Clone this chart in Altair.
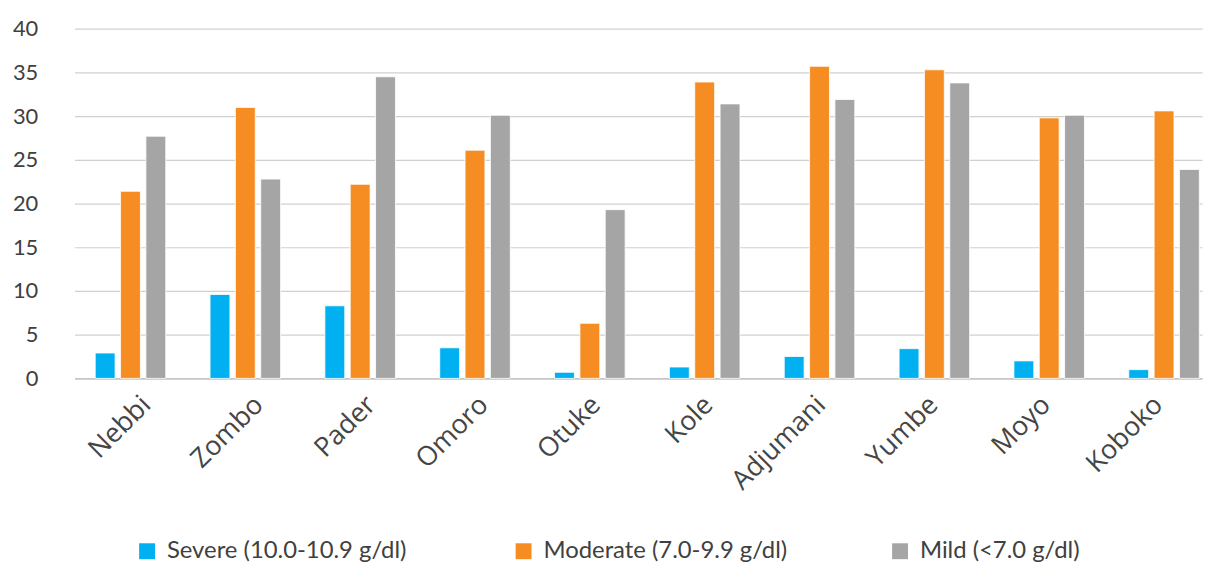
import json
import altair as alt
import pandas as pd

districts = ["Nebbi", "Zombo", "Pader", "Omoro", "Otuke", "Kole", "Adjumani", "Yumbe", "Moyo", "Koboko"]
severe = [2.9, 9.6, 8.3, 3.5, 0.7, 1.3, 2.5, 3.4, 2.0, 1.0]
moderate = [21.4, 31.0, 22.2, 26.1, 6.3, 33.9, 35.7, 35.3, 29.8, 30.6]
mild = [27.7, 22.8, 34.5, 30.1, 19.3, 31.4, 31.9, 33.8, 30.1, 23.9]
series = ["Severe (10.0-10.9 g/dl)", "Moderate (7.0-9.9 g/dl)", "Mild (<7.0 g/dl)"]
colors = ["#00B0F0", "#F58D22", "#A5A5A5"]
y_ticks = [0, 5, 10, 15, 20, 25, 30, 35, 40]

rows = []
for name, vals in zip(series, [severe, moderate, mild]):
    for d, v in zip(districts, vals):
        rows.append({"District": d, "Series": name, "Value": v})
df = pd.DataFrame(rows)

label_shift = alt.ExprRef(expr="7 - 2.4 * indexof(" + json.dumps(districts) + ", datum.value)")

chart = alt.Chart(df).mark_bar(stroke="white", strokeWidth=0.8).encode(
    x=alt.X(
        "District:N",
        sort=districts,
        scale=alt.Scale(paddingInner=0.338, paddingOuter=0.078, align=1),
        axis=alt.Axis(
            title=None, labelAngle=-45, labelAlign="right", labelBaseline="top",
            labelFontSize=27, labelFont="Open Sans", labelColor="#454545",
            ticks=False, domainColor="#bfbfbf", domainWidth=1.2,
            labelPadding=13, labelOffset=label_shift, grid=False,
        ),
    ),
    xOffset=alt.XOffset("Series:N", sort=series, scale=alt.Scale(paddingInner=0.216, paddingOuter=0.108)),
    y=alt.Y(
        "Value:Q",
        scale=alt.Scale(domain=[0, 40]),
        axis=alt.Axis(
            title=None, values=y_ticks, domain=False, ticks=False,
            labelFontSize=22, labelFont="Lato", labelColor="#404040", labelPadding=37,
            gridColor="#d0d0d0", gridWidth=1.2,
        ),
    ),
    color=alt.Color(
        "Series:N",
        sort=series,
        scale=alt.Scale(domain=series, range=colors),
        legend=alt.Legend(
            title=None, orient="none", legendX=61, legendY=514, direction="horizontal",
            columns=3, gridAlign="all", columnPadding=101, symbolType="square",
            symbolSize=256, symbolStrokeWidth=0, labelFontSize=24, labelFont="Lato",
            labelColor="#404040", labelOffset=8, padding=0, labelLimit=400,
        ),
    ),
).properties(
    width=1135,
    height=352,
    autosize=alt.AutoSizeParams(type="none"),
    padding={"left": 67, "top": 19, "right": 8, "bottom": 183},
).configure_view(stroke=None)

chart.save("out.html", embed_options={"renderer": "svg", "actions": False})
